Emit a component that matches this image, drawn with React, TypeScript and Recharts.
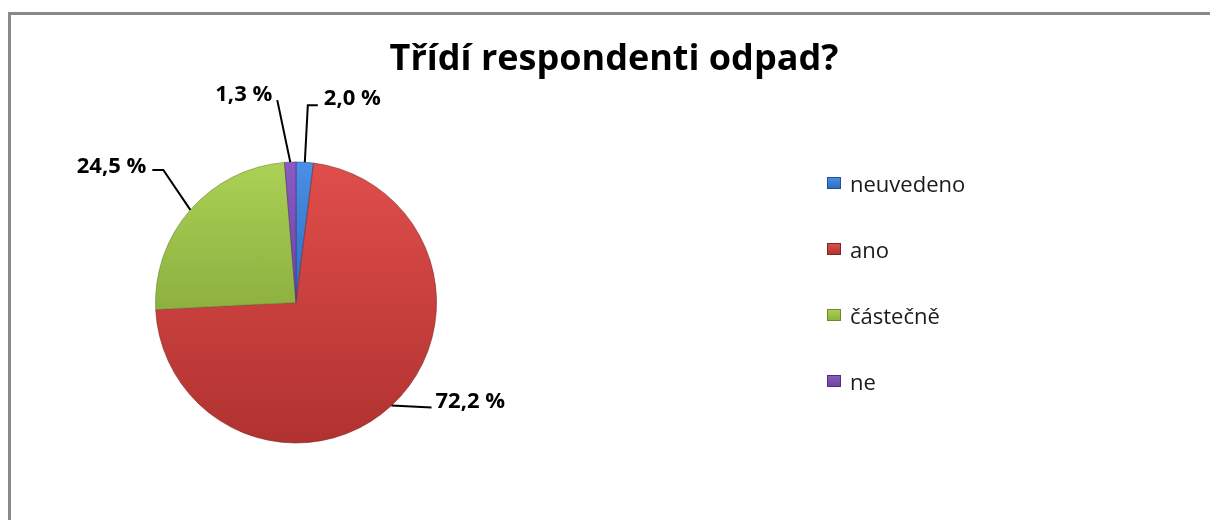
import React from "react";
import { PieChart, Pie, Cell, Legend } from "recharts";

const categories = ["neuvedeno", "ano", "částečně", "ne"];
const values = [2.0, 72.2, 24.5, 1.3];
const title = "Třídí respondenti odpad?";

const colors = [
  { top: "#4a90e4", bottom: "#2c6cc0", edge: "#23508f" },
  { top: "#e04e4b", bottom: "#b03230", edge: "#7d2523" },
  { top: "#abd155", bottom: "#8db040", edge: "#6a8a30" },
  { top: "#8a5cc2", bottom: "#6c44a0", edge: "#4e2f78" },
];

const data = categories.map((name, i) => ({ name, value: values[i] }));

// leader-line geometry, relative to the slice's outer edge point at its mid angle
const leader = [
  { elbow: [3, -57], end: [13, -57], text: [19, -57], anchor: "start" },
  { elbow: [20, 1], end: [40, 2], text: [44, 2], anchor: "start" },
  { elbow: [-27, -40], end: [-38, -40], text: [-44, -37], anchor: "end" },
  { elbow: [-13, -62], end: [-13, -62], text: [-18, -61], anchor: "end" },
];

const RAD = Math.PI / 180;

const fmt = (v: number) => `${v.toFixed(1).replace(".", ",")} %`;

const renderLabel = (props: any) => {
  const { cx, cy, midAngle, outerRadius, index, value } = props;
  const ex = cx + outerRadius * Math.cos(-midAngle * RAD);
  const ey = cy + outerRadius * Math.sin(-midAngle * RAD);
  const l = leader[index];
  const d = `M${ex},${ey} L${ex + l.elbow[0]},${ey + l.elbow[1]} L${ex + l.end[0]},${ey + l.end[1]}`;
  return (
    <g key={`lbl-${index}`}>
      <path d={d} stroke="#000" strokeWidth={2} fill="none" />
      <text
        x={ex + l.text[0]}
        y={ey + l.text[1]}
        textAnchor={l.anchor as any}
        fontFamily="'Open Sans', sans-serif"
        fontWeight={700}
        fontSize={22}
        fill="#000"
      >
        {fmt(value)}
      </text>
    </g>
  );
};

const renderLegend = () => {
  return (
    <div>
      {categories.map((name, i) => (
        <div
          key={name}
          style={{
            display: "flex",
            alignItems: "center",
            height: 66,
            fontFamily: "'Open Sans', sans-serif",
            fontSize: 22,
            color: "#1a1a1a",
          }}
        >
          <svg width={14} height={12} style={{ marginRight: 9 }}>
            <defs>
              <linearGradient id={`lg${i}`} x1="0" y1="0" x2="0" y2="1">
                <stop offset="0" stopColor={colors[i].top} />
                <stop offset="1" stopColor={colors[i].bottom} />
              </linearGradient>
            </defs>
            <rect x={0.5} y={0.5} width={13} height={11} fill={`url(#lg${i})`} stroke={colors[i].edge} strokeWidth={1} />
          </svg>
          <span>{name}</span>
        </div>
      ))}
    </div>
  );
};

export default function App() {
  return (
    <div
      style={{
        position: "relative",
        width: 1194,
        height: 504,
        background: "#fff",
        overflow: "hidden",
      }}
    >
      <div
        style={{
          position: "fixed",
          left: 8,
          top: 12,
          width: 1300,
          height: 600,
          borderTop: "3px solid #8a8a8a",
          borderLeft: "3px solid #8a8a8a",
          boxSizing: "border-box",
          pointerEvents: "none",
        }}
      />
      <div
        style={{
          position: "absolute",
          left: 0,
          width: 1212,
          top: 25,
          textAlign: "center",
          fontFamily: "'Open Sans', sans-serif",
          fontWeight: 700,
          fontSize: 36,
          lineHeight: "48px",
          color: "#000",
          zIndex: 2,
          whiteSpace: "nowrap",
        }}
      >
        {title}
      </div>
      <PieChart
        width={1194}
        height={504}
        margin={{ top: 0, right: 0, bottom: 0, left: 0 }}
        style={{ position: "absolute", left: 0, top: 0 }}
      >
        <defs>
          {colors.map((c, i) => (
            <linearGradient key={i} id={`pg${i}`} x1="0" y1="0" x2="0" y2="1">
              <stop offset="0" stopColor={c.top} />
              <stop offset="1" stopColor={c.bottom} />
            </linearGradient>
          ))}
        </defs>
        <Pie
          data={data}
          dataKey="value"
          nameKey="name"
          cx={288}
          cy={294.5}
          outerRadius={140.5}
          startAngle={90}
          endAngle={-270}
          label={renderLabel}
          labelLine={false}
          isAnimationActive={false}
          strokeWidth={0.6}
        >
          {data.map((d, i) => (
            <Cell key={d.name} fill={`url(#pg${i})`} stroke={colors[i].edge} />
          ))}
        </Pie>
        <Legend
          content={renderLegend}
          layout="vertical"
          wrapperStyle={{ position: "absolute", left: 819, top: 142, width: 200 }}
        />
      </PieChart>
    </div>
  );
}
